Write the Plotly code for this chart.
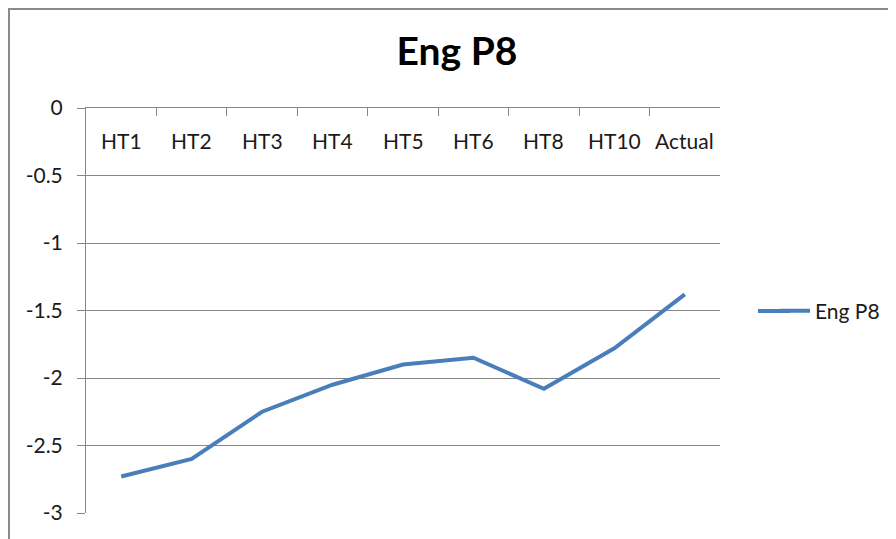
import plotly.graph_objects as go

categories = ["HT1", "HT2", "HT3", "HT4", "HT5", "HT6", "HT8", "HT10", "Actual"]
eng_p8 = [-2.73, -2.6, -2.25, -2.05, -1.9, -1.85, -2.08, -1.78, -1.38]
y_tick_vals = [0, -0.5, -1, -1.5, -2, -2.5, -3]
y_tick_text = ["0", "-0.5", "-1", "-1.5", "-2", "-2.5", "-3"]

W, H = 896, 539
OFF = 8  # page body margin offset
# plot area in page pixels: x 86..720, y 108..513
L = 86 - OFF
T = 108 - OFF
R = W - (720 - OFF)
B = H - (513 - OFF)
pw, ph = W - L - R, H - T - B


def px_x(x):
    """page pixel x -> paper coordinate"""
    return (x - OFF - L) / pw


def px_y(y):
    """page pixel y -> paper coordinate"""
    return (H - B - (y - OFF)) / ph


grey = "#878787"
blue = "#4A7EBB"
font = "Lato, 'Open Sans', sans-serif"
txt = "#1a1a1a"

fig = go.Figure()
fig.add_trace(go.Scatter(
    x=categories, y=eng_p8, mode="lines", name="Eng P8",
    line=dict(color=blue, width=4),
))

annotations = [
    dict(x=c, y=px_y(140), xref="x", yref="paper", text=c, showarrow=False,
         xanchor="center", yanchor="middle",
         font=dict(family=font, size=21, color=txt))
    for c in categories
]

fig.update_layout(
    width=W, height=H,
    margin=dict(l=L, r=R, t=T, b=B),
    paper_bgcolor="white", plot_bgcolor="white",
    font=dict(family=font, size=21, color=txt),
    title=dict(text="<b>Eng P8</b>", x=(457 - OFF) / W, xanchor="center",
               y=1 - (51 - OFF) / H, yanchor="middle",
               font=dict(family=font, size=39, color="#000000")),
    showlegend=True,
    legend=dict(x=px_x(775), y=px_y(311), xanchor="left", yanchor="middle",
                font=dict(family=font, size=21, color=txt),
                bgcolor="rgba(0,0,0,0)"),
    xaxis=dict(type="category", side="top", showline=True, linecolor=grey,
               linewidth=1, ticks="inside", tickson="boundaries", ticklen=8,
               tickcolor=grey, showticklabels=False, showgrid=False,
               range=[-0.5, len(categories) - 0.5]),
    yaxis=dict(range=[-3, 0], tickvals=y_tick_vals, ticktext=y_tick_text,
               showgrid=True, gridcolor=grey, gridwidth=1, zeroline=False,
               showline=True, linecolor=grey, ticks="outside", ticklen=8,
               tickcolor=grey, ticklabelstandoff=10),
    annotations=annotations,
    shapes=[
        # chart-area border (top and left edges)
        dict(type="line", xref="paper", yref="paper",
             x0=px_x(OFF), x1=px_x(W + 20), y0=px_y(OFF + 1), y1=px_y(OFF + 1),
             line=dict(color="#8a8a8a", width=2)),
        dict(type="line", xref="paper", yref="paper",
             x0=px_x(OFF + 1), x1=px_x(OFF + 1), y0=px_y(OFF), y1=px_y(H + 20),
             line=dict(color="#8a8a8a", width=2)),
        # longer legend key line, as in the reference
        dict(type="line", xref="paper", yref="paper",
             x0=px_x(758), x1=px_x(790), y0=px_y(311), y1=px_y(311),
             line=dict(color=blue, width=4)),
    ],
)

fig.write_html("out.html")
